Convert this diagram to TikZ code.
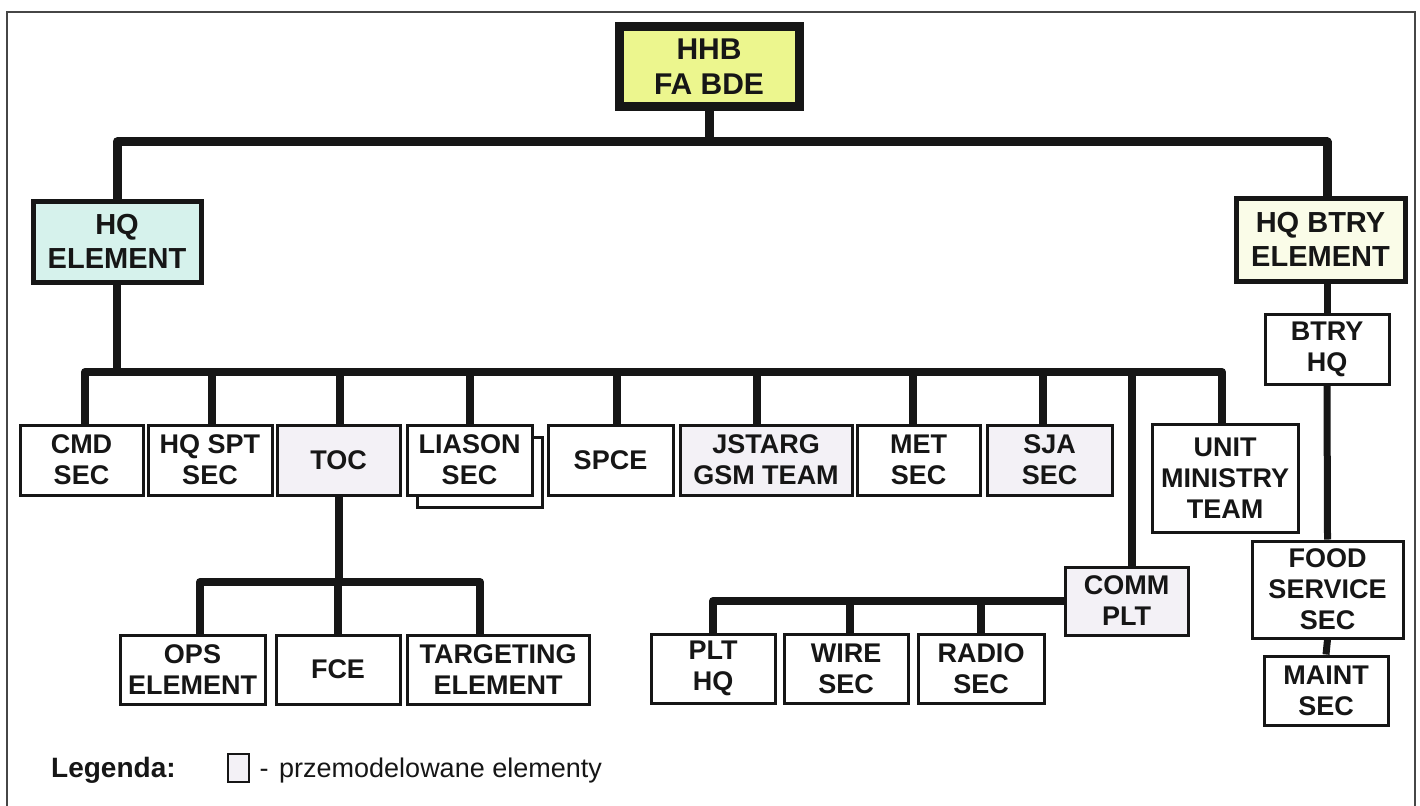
\documentclass[tikz,border=0pt]{standalone}
\usepackage{fontspec}
\setmainfont{Liberation Sans}
\definecolor{ink}{RGB}{22,22,22}
\definecolor{framec}{RGB}{70,70,70}
\definecolor{hhbfill}{RGB}{236,246,142}
\definecolor{hqfill}{RGB}{214,242,236}
\definecolor{btryfill}{RGB}{250,252,232}
\definecolor{remfill}{RGB}{243,241,246}
\tikzset{
  box/.style={draw=ink, line width=3pt, fill=white, inner sep=0pt, align=center,
    font=\fontsize{27}{31}\selectfont\bfseries, text=ink},
  rembox/.style={box, fill=remfill},
  link/.style={draw=ink, line width=8pt, line join=round},
  mainlink/.style={link, line width=9pt},
}
\begin{document}
\begin{tikzpicture}[x=1pt,y=-1pt]
\useasboundingbox (0,0) rectangle (1420,805);
% frame
\draw[draw=framec, line width=2pt] (7,815) -- (7,12) -- (1415,12) -- (1415,815);

% bus coordinates
\coordinate (top) at (709,142);
\coordinate (bus2) at (0,372);
\coordinate (bus4) at (0,582);

% top level
\node[box, line width=9pt, fill=hhbfill, minimum width=180pt, minimum height=80pt,
  font=\fontsize{30}{35}\selectfont\bfseries] (hhb) at (709,66.5) {HHB\\FA BDE};
\node[box, line width=5pt, fill=hqfill, minimum width=168pt, minimum height=81pt,
  font=\fontsize{29}{34}\selectfont\bfseries] (hqe) at (117,241.5) {HQ\\ELEMENT};
\node[box, line width=5pt, fill=btryfill, minimum width=169pt, minimum height=83pt,
  font=\fontsize{29}{34}\selectfont\bfseries] (hqb) at (1320.5,239.5) {HQ BTRY\\ELEMENT};

% row 1
\node[box, minimum width=123pt, minimum height=70pt] (cmd) at (81.5,460) {CMD\\SEC};
\node[box, minimum width=124pt, minimum height=70pt] (hqspt) at (210,460) {HQ SPT\\SEC};
\node[rembox, minimum width=123pt, minimum height=70pt] (toc) at (338.5,460) {TOC};
\node[box, minimum width=125pt, minimum height=70pt] (liasonb) at (479.5,472) {};
\node[box, minimum width=125pt, minimum height=70pt] (liason) at (469.5,460) {LIASON\\SEC};
\node[box, minimum width=125pt, minimum height=70pt] (spce) at (610.5,460) {SPCE};
\node[rembox, minimum width=172pt, minimum height=70pt] (jstarg) at (766,460) {JSTARG\\GSM TEAM};
\node[box, minimum width=123pt, minimum height=70pt] (met) at (918.5,460) {MET\\SEC};
\node[rembox, minimum width=125pt, minimum height=70pt] (sja) at (1049.5,460) {SJA\\SEC};
\node[box, minimum width=146pt, minimum height=108pt] (unit) at (1225,478) {UNIT\\MINISTRY\\TEAM};

% comm plt
\node[rembox, minimum width=123pt, minimum height=68pt] (comm) at (1126.5,601) {COMM\\PLT};
\node[box, minimum width=124pt, minimum height=69pt] (plthq) at (713,668.5) {PLT\\HQ};
\node[box, minimum width=124pt, minimum height=69pt] (wire) at (846,668.5) {WIRE\\SEC};
\node[box, minimum width=126pt, minimum height=69pt] (radio) at (981,668.5) {RADIO\\SEC};

% toc children
\node[box, minimum width=145pt, minimum height=69pt] (ops) at (192.5,669.5) {OPS\\ELEMENT};
\node[box, minimum width=124pt, minimum height=69pt] (fce) at (338,669.5) {FCE};
\node[box, minimum width=182pt, minimum height=69pt] (targ) at (498,669.5) {TARGETING\\ELEMENT};

% right column
\node[box, minimum width=124pt, minimum height=70pt] (btry) at (1327,349) {BTRY\\HQ};
\node[box, minimum width=151pt, minimum height=97pt] (food) at (1327.5,589.5) {FOOD\\SERVICE\\SEC};
\node[box, minimum width=124pt, minimum height=69pt] (maint) at (1326,690.5) {MAINT\\SEC};

% connectors: top level
\draw[mainlink] (hhb.south) -- (top);
\draw[mainlink] (hqe.north) |- (top) -| (hqb.north -| btry.north);

% connectors: HQ element bus
\draw[link] (hqe.south) -- (hqe.south |- bus2);
\draw[link] ([xshift=3.5pt]cmd.north) |- ([xshift=-3pt]unit.north |- bus2) -- ([xshift=-3pt]unit.north);
\foreach \n/\s in {hqspt/2, toc/1.5, liason/0.5, spce/6.5, jstarg/-9, met/-5.5, sja/-6.5}
  \draw[link] ([xshift=\s pt]\n.north) -- ([xshift=\s pt]\n.north |- bus2);
\draw[link] ([xshift=5.5pt]comm.north) -- ([xshift=5.5pt]comm.north |- bus2);

% comm plt children
\draw[link] (comm.west) -| (plthq.north);
\draw[link] ([xshift=4pt]wire.north) -- ([xshift=4pt]wire.north |- comm.west);
\draw[link] (radio.north) -- (radio.north |- comm.west);

% toc children
\draw[link] (toc.south) -- (toc.south |- bus4);
\draw[link] ([xshift=7.5pt]ops.north) |- ([xshift=-18pt]targ.north |- bus4) -- ([xshift=-18pt]targ.north);
\draw[link] (fce.north) -- (fce.north |- bus4);

% right column
\draw[link, line width=7pt] (hqb.south -| btry.north) -- (btry.north);
\draw[link, line width=7pt] (btry.south) -- (food.north);
\draw[link, line width=7pt] (food.south) -- (maint.north);

% legend
\node[anchor=base west, inner sep=0pt, text=ink, font=\fontsize{28}{32}\selectfont\bfseries] (leg) at (51,777) {Legenda:};
\node[draw=ink, line width=2pt, fill=remfill, minimum width=21pt, minimum height=28pt, inner sep=0pt] (legbox) at (238,768) {};
\node[anchor=base, inner sep=0pt, text=ink, font=\fontsize{27}{32}\selectfont] (legdash) at (264,777) {-};
\node[anchor=base west, inner sep=0pt, text=ink, font=\fontsize{27}{32}\selectfont] (legtxt) at (279,777) {przemodelowane elementy};
\end{tikzpicture}
\end{document}
